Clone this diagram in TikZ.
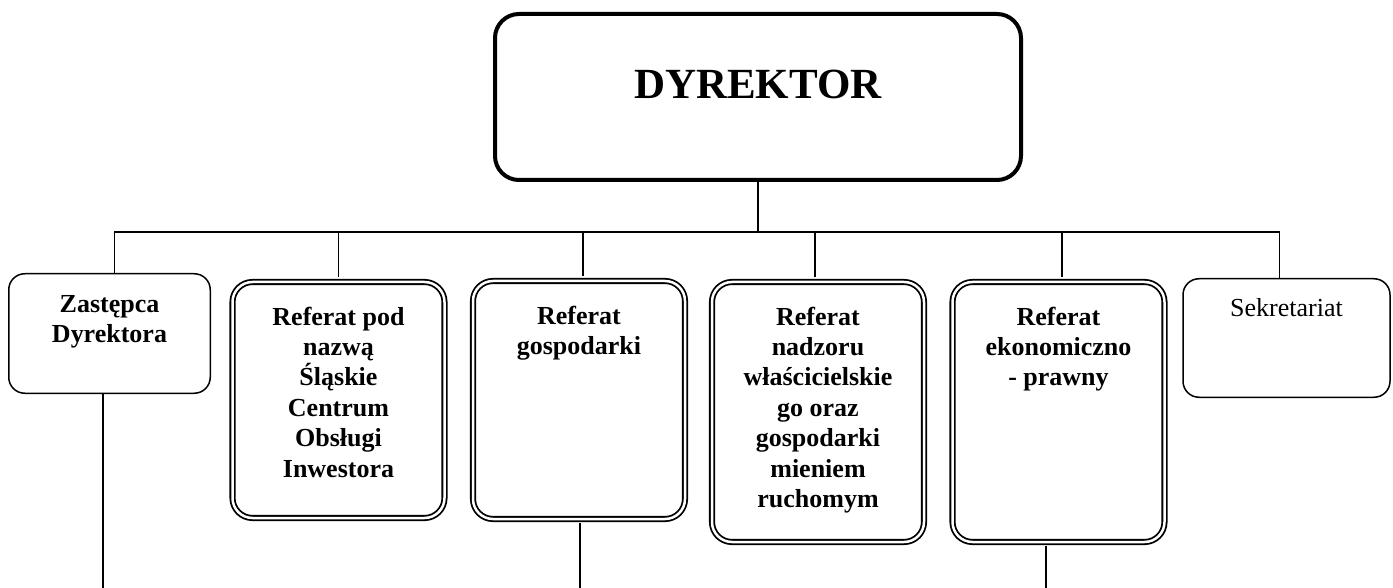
\documentclass[tikz,border=0pt]{standalone}
\usepackage{fontspec}
\setmainfont{Liberation Serif}
\usetikzlibrary{positioning}
\tikzset{
  boxchief/.style={
    draw,
    rectangle,
    rounded corners=24pt,
    line width=4pt,
    minimum width=526pt,
    minimum height=166pt,
    inner sep=0pt
  },
  boxthin/.style={
    draw,
    rectangle,
    rounded corners=16pt,
    line width=1.5pt,
    minimum width=201.5pt,
    minimum height=119.5pt,
    inner sep=0pt
  },
  boxdouble/.style={
    draw,
    double,
    double distance=2.5pt,
    line width=1.8pt,
    rectangle,
    rounded corners=20pt,
    minimum width=212pt,
    inner sep=0pt
  },
  boxtext/.style={
    align=center,
    inner sep=0pt,
    font=\fontsize{26}{30.4}\selectfont\bfseries
  },
  wire/.style={
    line width=1.2pt
  }
}

\begin{document}
\begin{tikzpicture}[x=1pt, y=-1pt]
    \useasboundingbox (0,0) rectangle (1393,588);

    \node[boxchief] (dyr) at (758,97) {};
    \node[boxtext, font=\fontsize{43}{50}\selectfont\bfseries, below=58pt of dyr.north] (dyrtext) {DYREKTOR};

    \node[boxthin] (zast) at (109.5,333.5) {};
    \node[boxtext, below=22pt of zast.north] (zasttext) {Zastępca\\Dyrektora};

    \node[boxdouble, minimum height=236pt] (pod) at (338.5,400) {};
    \node[boxtext, below=25.5pt of pod.north] (podtext) {Referat pod\\nazwą\\Śląskie\\Centrum\\Obsługi\\Inwestora};

    \node[boxdouble, minimum height=238pt] (gosp) at (579,400) {};
    \node[boxtext, below=25.5pt of gosp.north] (gosptext) {Referat\\gospodarki};

    \node[boxdouble, minimum height=260pt] (nadz) at (818,412) {};
    \node[boxtext, below=25.5pt of nadz.north] (nadztext) {Referat\\nadzoru\\właścicielskie\\go oraz\\gospodarki\\mieniem\\ruchomym};

    \node[boxdouble, minimum height=260pt] (ekon) at (1058.5,412) {};
    \node[boxtext, below=25.5pt of ekon.north] (ekontext) {Referat\\ekonomiczno\\- prawny};

    \node[boxthin, minimum width=207pt, minimum height=118.5pt] (sekr) at (1286.5,338) {};
    \node[boxtext, font=\fontsize{26}{30.4}\selectfont, below=20.5pt of sekr.north] (sekrtext) {Sekretariat};

    \coordinate (bus) at (758,232);
    \draw[wire] (dyr.south) -- (bus);
    \draw[wire] ([xshift=5pt]zast.north) |- (bus) -| ([xshift=-7pt]sekr.north);
    \draw[wire, shorten >=4pt] (pod.north |- bus) -- (pod.north);
    \draw[wire, shorten >=4pt] ([xshift=4pt]gosp.north |- bus) -- ([xshift=4pt]gosp.north);
    \draw[wire, shorten >=4pt] ([xshift=-3pt]nadz.north |- bus) -- ([xshift=-3pt]nadz.north);
    \draw[wire, shorten >=4pt] ([xshift=3.5pt]ekon.north |- bus) -- ([xshift=3.5pt]ekon.north);

    \coordinate (zastend) at (103,588);
    \coordinate (gospend) at (580,588);
    \coordinate (ekonend) at (1046,588);
    \draw[wire] (zast.south -| zastend) -- (zastend);
    \draw[wire, shorten <=3pt] (gosp.south -| gospend) -- (gospend);
    \draw[wire, shorten <=3pt] (ekon.south -| ekonend) -- (ekonend);
\end{tikzpicture}
\end{document}
